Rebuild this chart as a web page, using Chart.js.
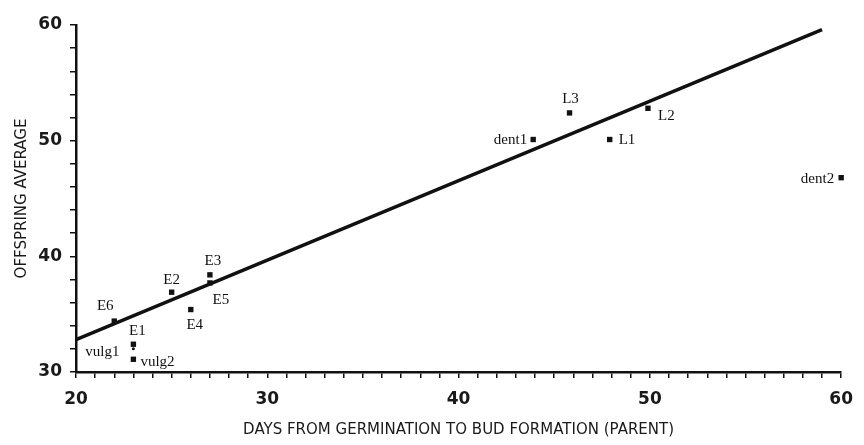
<!DOCTYPE html>
<html>
<head>
<meta charset="utf-8">
<script src="https://cdn.jsdelivr.net/npm/chart.js@4.4.1/dist/chart.umd.min.js"></script>
<style>
  html, body { margin: 0; padding: 0; background: #fff; }
  #wrap { width: 864px; height: 445px; position: relative; }
</style>
</head>
<body>
<div id="wrap"><canvas id="myChart" width="864" height="445"></canvas></div>
<script>
// parents: label, days to bud formation, offspring average
const pointNames = ["E6", "E1", "vulg1", "vulg2", "E2", "E4", "E3", "E5", "dent1", "L3", "L1", "L2", "dent2"];
const daysToBud = [22, 23, 23, 23, 25, 26, 27, 27, 43.9, 45.8, 47.9, 49.9, 60];
const offspringAvg = [34.4, 32.4, 32.0, 31.1, 36.9, 35.4, 38.4, 37.7, 50.1, 52.4, 50.1, 52.8, 46.8];

// fitted line end points
const fitDays = [20, 59];
const fitOffspring = [32.8, 59.6];

const xTickLabels = [20, 30, 40, 50, 60];
const yTickLabels = [30, 40, 50, 60];

// label placement (dx, dy, align) per point
const labelPlace = {
  E6: [-9, -15, "center"],
  E1: [4, -13, "center"],
  vulg1: [-14, 3, "right"],
  vulg2: [7, 3, "left"],
  E2: [0, -12, "center"],
  E4: [4, 16, "center"],
  E3: [3, -14, "center"],
  E5: [11, 17, "center"],
  dent1: [-6, 1, "right"],
  L3: [1, -14, "center"],
  L1: [9, 1, "left"],
  L2: [10, 8, "left"],
  dent2: [-7, 1, "right"],
};

const pointLabels = {
  id: "pointLabels",
  afterDatasetsDraw(chart) {
    const ctx = chart.ctx;
    const meta = chart.getDatasetMeta(1);
    ctx.save();
    ctx.font = "15px 'Liberation Serif', serif";
    ctx.fillStyle = "#111";
    ctx.textBaseline = "middle";
    meta.data.forEach((el, i) => {
      const p = labelPlace[pointNames[i]];
      ctx.textAlign = p[2];
      ctx.fillText(pointNames[i], el.x + p[0], el.y + p[1]);
    });
    ctx.restore();
  },
};

document.addEventListener("DOMContentLoaded", () => {
  const ctx = document.getElementById("myChart").getContext("2d");

  new Chart(ctx, {
    type: "scatter",
    data: {
      datasets: [
        {
          type: "line",
          data: fitDays.map((d, i) => ({ x: d, y: fitOffspring[i] })),
          borderColor: "#111",
          borderWidth: 3.5,
          pointRadius: 0,
          fill: false,
        },
        {
          data: daysToBud.map((d, i) => ({ x: d, y: offspringAvg[i] })),
          backgroundColor: "#111",
          borderColor: "#111",
          borderWidth: 0,
          pointStyle: pointNames.map((n) => (n === "vulg1" ? "circle" : "rect")),
          pointRadius: pointNames.map((n) => (n === "vulg1" ? 1.5 : 3.8)),
          clip: false,
        },
      ],
    },
    options: {
      responsive: false,
      animation: false,
      layout: { padding: { top: 25, right: 14, left: 0, bottom: 0 } },
      plugins: {
        legend: { display: false },
        tooltip: { enabled: false },
      },
      scales: {
        x: {
          type: "linear",
          min: 20,
          max: 60,
          afterFit: (s) => { s.height = 73; },
          afterBuildTicks: (s) => {
            s.ticks = [];
            for (let v = 20; v <= 60; v++) s.ticks.push({ value: v });
          },
          ticks: {
            autoSkip: false,
            maxRotation: 0,
            padding: 11,
            color: "#1a1a1a",
            font: { family: "'DejaVu Sans', sans-serif", size: 17, weight: "bold" },
            callback: (v) => (xTickLabels.includes(v) ? v : ""),
          },
          grid: { drawOnChartArea: false, drawTicks: true, tickLength: 6, color: "#111", lineWidth: 1.5 },
          border: { display: true, color: "#111", width: 2.5 },
          title: {
            display: true,
            text: "DAYS FROM GERMINATION TO BUD FORMATION (PARENT)",
            color: "#1a1a1a",
            font: { family: "'DejaVu Sans', sans-serif", size: 15 },
            padding: { top: 0, bottom: 6 },
          },
        },
        y: {
          type: "linear",
          min: 30,
          max: 60,
          afterFit: (s) => { s.width = 76; },
          afterBuildTicks: (s) => {
            s.ticks = [];
            for (let v = 30; v <= 60; v += 2) s.ticks.push({ value: v });
          },
          ticks: {
            autoSkip: false,
            padding: 8,
            color: "#1a1a1a",
            font: { family: "'DejaVu Sans', sans-serif", size: 17, weight: "bold" },
            callback: (v) => (yTickLabels.includes(v) ? v : ""),
          },
          grid: { drawOnChartArea: false, drawTicks: true, tickLength: 6, color: "#111", lineWidth: 1.5 },
          border: { display: true, color: "#111", width: 2.5 },
          title: {
            display: true,
            text: "OFFSPRING AVERAGE",
            color: "#1a1a1a",
            font: { family: "'DejaVu Sans', sans-serif", size: 15 },
            padding: { top: 13, bottom: 0 },
          },
        },
      },
    },
    plugins: [pointLabels],
  });
});
</script>
</body>
</html>
